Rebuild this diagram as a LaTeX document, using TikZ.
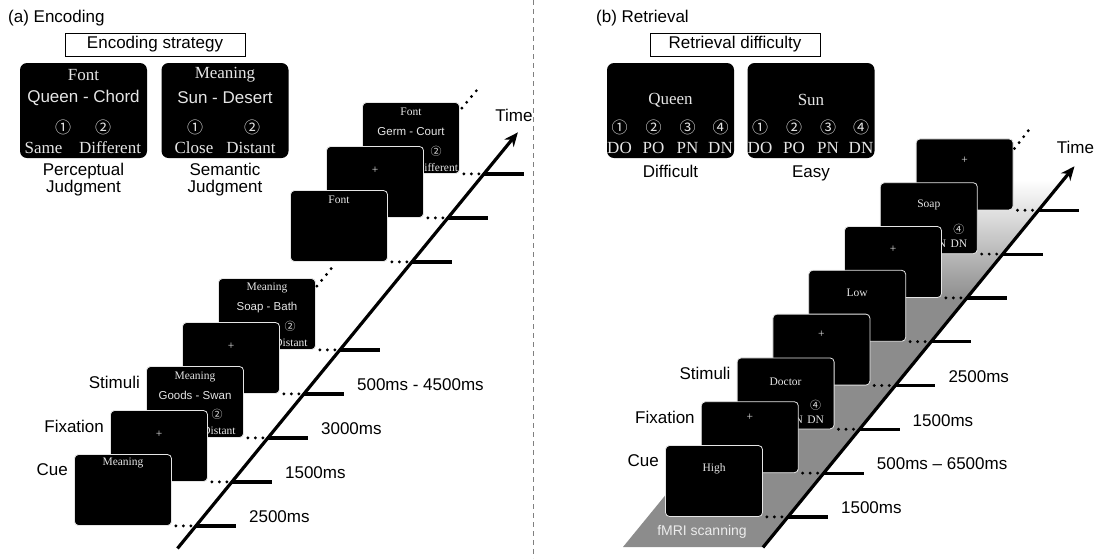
\documentclass[tikz,border=0pt]{standalone}
\usepackage{fontspec}
\setmainfont{Liberation Serif}
\setsansfont{Liberation Sans}
\newfontfamily\circfont{Noto Sans CJK JP}
\usetikzlibrary{arrows.meta,calc}
\definecolor{scan}{gray}{0.55}
\definecolor{screentext}{gray}{0.9}
\begin{document}
\begin{tikzpicture}[x=1pt,y=-1pt,
    screen/.style={draw=gray!20, line width=0.8pt, fill=black, rounded corners=4pt,
      minimum width=97pt, minimum height=71pt, inner sep=0pt},
    panel/.style={fill=black, rounded corners=7pt, minimum width=127pt,
      minimum height=95pt, inner sep=0pt},
    lbl/.style={font=\fontsize{17}{17}\selectfont\sffamily, inner sep=0pt},
    boxword/.style={text=screentext, inner sep=0pt, font=\fontsize{17}{17}\selectfont},
    boxpair/.style={text=screentext, inner sep=0pt, font=\fontsize{17}{17}\selectfont\sffamily},
    boxdigit/.style={text=screentext, inner sep=0pt, font=\circfont\fontsize{16}{16}\selectfont},
    smallword/.style={text=screentext, inner sep=0pt, font=\fontsize{11.5}{12}\selectfont},
    smallpair/.style={text=screentext, inner sep=0pt, font=\fontsize{11.5}{12}\selectfont\sffamily},
    smalldigit/.style={text=screentext, inner sep=0pt, font=\circfont\fontsize{11}{11}\selectfont},
    dotline/.style={line width=3.2pt, dash pattern=on 0pt off 7.5pt, line cap=round},
    tickline/.style={line width=3.2pt},
    timeline/.style={line width=3.2pt, -{Stealth[length=14pt,width=12pt]}},
    divider/.style={gray, line width=0.8pt, dash pattern=on 5pt off 4pt},
  ]
  \useasboundingbox (0,0) rectangle (1095,558);
  \draw[divider] (533,0) -- (533,558);

  % (a) encoding
  \node[lbl, anchor=west] (titleA) at (8,18) {(a) Encoding};
  \node[lbl, draw, line width=0.8pt, minimum width=180pt, minimum height=23pt] (strategy) at (155,44.5) {Encoding strategy};
  \node[panel] (pfont) at (83.5,110.5) {};
  \node[panel] (pmean) at (225,110.5) {};
  \node[boxword] at ($(pfont.north)+(0,12)$) {Font};
  \node[boxpair] at ($(pfont.north)+(0,35)$) {Queen - Chord};
  \node[boxdigit] at ($(pfont.north)+(-20.5,65)$) {①};
  \node[boxdigit] at ($(pfont.north)+(19.5,65)$) {②};
  \node[boxword] at ($(pfont.north)+(-40,85)$) {Same};
  \node[boxword] at ($(pfont.north)+(26.5,85)$) {Different};
  \node[boxword] at ($(pmean.north)+(0,12)$) {Meaning};
  \node[boxpair] at ($(pmean.north)+(0,35)$) {Sun - Desert};
  \node[boxdigit] at ($(pmean.north)+(-30,65)$) {①};
  \node[boxdigit] at ($(pmean.north)+(27,65)$) {②};
  \node[boxword] at ($(pmean.north)+(-31,85)$) {Close};
  \node[boxword] at ($(pmean.north)+(26,85)$) {Distant};
  \node[lbl, align=center, anchor=north] at ($(pfont.south)+(0,5)$) {Perceptual\\Judgment};
  \node[lbl, align=center, anchor=north] at ($(pmean.south)+(0,5)$) {Semantic\\Judgment};

  \node[screen] (e8) at (411,138) {};
  \node[smallword] at ($(e8.north)+(0,10)$) {Font};
  \node[smallpair] at ($(e8.north)+(0,29)$) {Germ - Court};
  \node[smalldigit] at ($(e8.north)+(25,49)$) {②};
  \node[smallword] at ($(e8.north)+(26,65)$) {Different};
  \node[screen] (e7) at (375,182) {};
  \node[smallword] at ($(e7.north)+(0,24)$) {+};
  \node[screen] (e6) at (339,226) {};
  \node[smallword] at ($(e6.north)+(0,10)$) {Font};
  \node[screen] (e4) at (267,314) {};
  \node[smallword] at ($(e4.north)+(0,10)$) {Meaning};
  \node[smallpair] at ($(e4.north)+(0,29)$) {Soap - Bath};
  \node[smalldigit] at ($(e4.north)+(23,48)$) {②};
  \node[smallword] at ($(e4.north)+(24,64.5)$) {Distant};
  \node[screen] (e3) at (231,358) {};
  \node[smallword] at ($(e3.north)+(0,24)$) {+};
  \node[screen] (e2) at (195,402) {};
  \node[smallword] at ($(e2.north)+(0,10.5)$) {Meaning};
  \node[smallpair] at ($(e2.north)+(0,29.5)$) {Goods - Swan};
  \node[smalldigit] at ($(e2.north)+(22,48)$) {②};
  \node[smallword] at ($(e2.north)+(24,64.5)$) {Distant};
  \node[screen] (e1) at (159,446) {};
  \node[smallword] at ($(e1.north)+(0,24)$) {+};
  \node[screen] (e0) at (123,490) {};
  \node[smallword] at ($(e0.north)+(0,9)$) {Meaning};

  \node[lbl, anchor=east] at ($(e2.north west)+(-6,16)$) {Stimuli};
  \node[lbl, anchor=east] at ($(e1.north west)+(-6,16)$) {Fixation};
  \node[lbl, anchor=east] at ($(e0.north west)+(-6,16)$) {Cue};

  \foreach \i in {0,1,2,3,4,6,7,8}{
    \draw[dotline] ($(e\i.south east)+(4,0)$) -- ($(e\i.south east)+(20,0)$);
    \coordinate (lt\i) at ($(e\i.south east)+(24,0)$);
    \draw[tickline] (lt\i) -- ++(40,0);
  }
  \draw[dotline] ($(e4.north east)+(1,8)$) -- ($(e4.north east)+(19,-14)$);
  \draw[dotline] ($(e8.north east)+(2,6)$) -- ($(e8.north east)+(17,-12)$);
  \draw[timeline] ($(lt0)!-0.064!(lt8)$) -- ($(lt0)!1.118!(lt8)$) coordinate (tipA);
  \node[lbl, anchor=south] at ($(tipA)+(-4,-11)$) {Time};

  \node[lbl, anchor=west] at ($(lt0)+(53,-9)$) {2500ms};
  \node[lbl, anchor=west] at ($(lt1)+(53,-9)$) {1500ms};
  \node[lbl, anchor=west] at ($(lt2)+(53,-9)$) {3000ms};
  \node[lbl, anchor=west] at ($(lt3)+(53,-9)$) {500ms - 4500ms};

  % (b) retrieval
  \node[lbl, anchor=west] (titleB) at (596,18) {(b) Retrieval};
  \node[lbl, draw, line width=0.8pt, minimum width=170pt, minimum height=23pt] (difficulty) at (735,44.5) {Retrieval difficulty};
  \node[panel] (phard) at (670.5,110.5) {};
  \node[panel] (peasy) at (811,110.5) {};
  \node[boxword] at ($(phard.north)+(0,37)$) {Queen};
  \node[boxword] at ($(peasy.north)+(0,37)$) {Sun};
  \foreach \p in {phard,peasy}{
    \node[boxdigit] at ($(\p.north)+(-51,65)$) {①};
    \node[boxdigit] at ($(\p.north)+(-17,65)$) {②};
    \node[boxdigit] at ($(\p.north)+(17,65)$) {③};
    \node[boxdigit] at ($(\p.north)+(50,65)$) {④};
    \node[boxword] at ($(\p.north)+(-51,85)$) {DO};
    \node[boxword] at ($(\p.north)+(-17,85)$) {PO};
    \node[boxword] at ($(\p.north)+(17,85)$) {PN};
    \node[boxword] at ($(\p.north)+(50,85)$) {DN};
  }
  \node[lbl, anchor=north] at ($(phard.south)+(0,7)$) {Difficult};
  \node[lbl, anchor=north] at ($(peasy.south)+(0,7)$) {Easy};

  % scanning band
  \shade[top color=white, bottom color=scan] (923,180) -- (1063,180) -- (965.8,300) -- (825.8,300) -- cycle;
  \fill[scan] (825.8,299) -- (965.8,299) -- (763,547) -- (623,547) -- cycle;
  \node[font=\fontsize{14}{14}\selectfont\sffamily, text=gray!15, inner sep=0pt] (fmri) at (702,532) {fMRI scanning};

  \node[screen] (r7) at (964.6,174.4) {};
  \node[smallword] at ($(r7.north)+(0,22)$) {+};
  \node[screen] (r6) at (928.8,218.2) {};
  \node[smallword] at ($(r6.north)+(0,22.5)$) {Soap};
  \node[smalldigit] at ($(r6.north)+(30,47)$) {④};
  \node[smallword] at ($(r6.north)+(10,61)$) {PN};
  \node[smallword] at ($(r6.north)+(30,61)$) {DN};
  \node[screen] (r5) at (893,262) {};
  \node[smallword] at ($(r5.north)+(0,23.5)$) {+};
  \node[screen] (r4) at (857.2,305.8) {};
  \node[smallword] at ($(r4.north)+(0,23)$) {Low};
  \node[screen] (r3) at (821.4,349.6) {};
  \node[smallword] at ($(r3.north)+(0,21)$) {+};
  \node[screen] (r2) at (785.6,393.4) {};
  \node[smallword] at ($(r2.north)+(0,24)$) {Doctor};
  \node[smalldigit] at ($(r2.north)+(30,48)$) {④};
  \node[smallword] at ($(r2.north)+(10,62)$) {PN};
  \node[smallword] at ($(r2.north)+(30,62)$) {DN};
  \node[screen] (r1) at (749.8,437.2) {};
  \node[smallword] at ($(r1.north)+(0,16)$) {+};
  \node[screen] (r0) at (714,481) {};
  \node[smallword] at ($(r0.north)+(0,23.5)$) {High};

  \node[lbl, anchor=east] at ($(r2.north west)+(-6,16)$) {Stimuli};
  \node[lbl, anchor=east] at ($(r1.north west)+(-6,16)$) {Fixation};
  \node[lbl, anchor=east] at ($(r0.north west)+(-6,16)$) {Cue};

  \foreach \i in {0,...,7}{
    \draw[dotline] ($(r\i.south east)+(4,0)$) -- ($(r\i.south east)+(20,0)$);
    \coordinate (rt\i) at ($(r\i.south east)+(25,0)$);
    \draw[tickline] (rt\i) -- ++(40,0);
  }
  \draw[dotline] ($(r7.north east)+(1,10)$) -- ($(r7.north east)+(15,-8)$);
  \draw[timeline] ($(rt0)!-0.0995!(rt7)$) -- ($(rt0)!1.1436!(rt7)$) coordinate (tipB);
  \node[lbl, anchor=south] at ($(tipB)+(1,-12)$) {Time};

  \node[lbl, anchor=west] at ($(rt0)+(53,-9)$) {1500ms};
  \node[lbl, anchor=west] at ($(rt1)+(53,-9)$) {500ms – 6500ms};
  \node[lbl, anchor=west] at ($(rt2)+(53,-9)$) {1500ms};
  \node[lbl, anchor=west] at ($(rt3)+(53,-9)$) {2500ms};
\end{tikzpicture}
\end{document}
